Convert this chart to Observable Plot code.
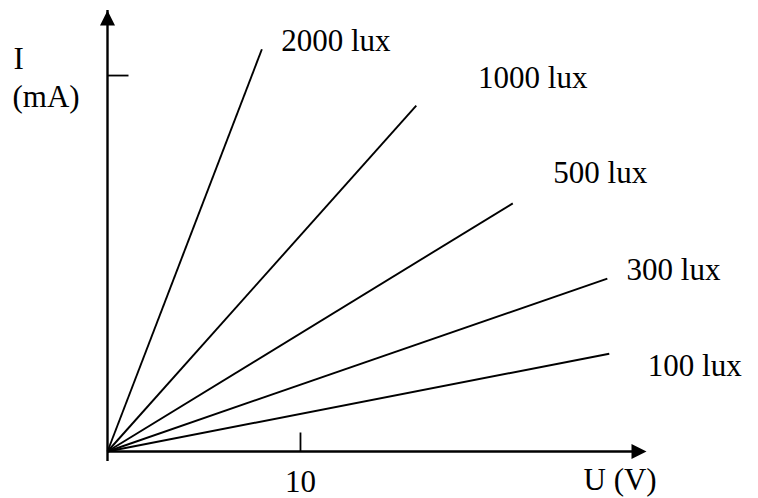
<!DOCTYPE html>
<html><head><meta charset="utf-8">
<script src="https://cdn.jsdelivr.net/npm/d3@7"></script>
<script src="https://cdn.jsdelivr.net/npm/@observablehq/plot@0.6"></script>
<style>html,body{margin:0;padding:0;background:#fff} svg{display:block}</style>
</head><body><div id="chart"></div>
<script>
// Data (U in V, I in mA; the I tick is unlabelled)
const luxLabels = ["2000 lux", "1000 lux", "500 lux", "300 lux", "100 lux"];
const endU = [8.0, 16.0, 21.0, 25.9, 26.0];
const endI = [10.7, 9.2, 6.6, 4.6, 2.6];
const labelU = [9.0, 19.2, 23.1, 26.9, 28.0];
const labelI = [10.66, 9.68, 7.13, 4.55, 2.02];
const xTicks = [10];
const yTicks = [10];
const uMax = 27.93;
const iMax = 11.73;

const rows = luxLabels.map((lux, k) => ({lux, u: endU[k], i: endI[k], lu: labelU[k], li: labelI[k]}));

const lineShape = {draw(ctx, l) { ctx.moveTo(0, 0); ctx.lineTo(0, -l); }};
const triShape = {draw(ctx, l) { ctx.moveTo(0, -l); ctx.lineTo(7.5, 0); ctx.lineTo(-7.5, 0); ctx.closePath(); }};

const chart = Plot.plot({
  width: 758,
  height: 498,
  marginLeft: 107,
  marginRight: 112,
  marginTop: 10,
  marginBottom: 47,
  style: {fontFamily: "'Liberation Serif', 'Times New Roman', serif", fontSize: "31px", background: "white", color: "black", overflow: "visible"},
  x: {domain: [0, uMax]},
  y: {domain: [0, iMax], axis: null},
  marks: [
    // lines
    Plot.link(rows, {x1: () => 0, y1: () => 0, x2: "u", y2: "i", stroke: "black", strokeWidth: 1.9}),
    // axes
    Plot.ruleX([0], {y1: 0, y2: iMax, insetTop: 10, stroke: "black", strokeWidth: 2.4}),
    Plot.ruleY([0], {x1: 0, x2: uMax, insetRight: 10, stroke: "black", strokeWidth: 2.4}),
    Plot.vector([0], {x: () => 0, y: () => iMax, rotate: 0, length: 15, anchor: "end", shape: triShape, fill: "black", stroke: "none"}),
    Plot.vector([0], {x: () => uMax, y: () => 0, rotate: 90, length: 15, anchor: "end", shape: triShape, fill: "black", stroke: "none"}),
    // ticks
    Plot.vector(xTicks, {x: d => d, y: () => 0, rotate: 0, length: 19, anchor: "start", shape: lineShape, stroke: "black", strokeWidth: 1.8, strokeLinecap: "butt"}),
    Plot.vector(yTicks, {x: () => 0, y: d => d, rotate: 90, length: 21, anchor: "start", shape: lineShape, stroke: "black", strokeWidth: 1.8, strokeLinecap: "butt"}),
    Plot.axisX(xTicks, {tickSize: 0, tickPadding: 18, fontSize: 31, tickFormat: d => String(d), label: null}),
    // series labels
    Plot.text(rows, {x: "lu", y: "li", text: "lux", textAnchor: "start", lineAnchor: "bottom", fontSize: 31, fill: "black"}),
    // axis titles
    Plot.text(["I"], {frameAnchor: "top-left", text: d => d, dx: -94, dy: 58, textAnchor: "start", lineAnchor: "bottom", fontSize: 31, fill: "black"}),
    Plot.text(["(mA)"], {frameAnchor: "top-left", text: d => d, dx: -95, dy: 96, textAnchor: "start", lineAnchor: "bottom", fontSize: 31, fill: "black"}),
    Plot.text(["U (V)"], {frameAnchor: "bottom-right", text: d => d, dx: -63, dy: 38, textAnchor: "start", lineAnchor: "bottom", fontSize: 31, fill: "black"})
  ]
});
document.getElementById("chart").append(chart);
</script>
</body></html>
